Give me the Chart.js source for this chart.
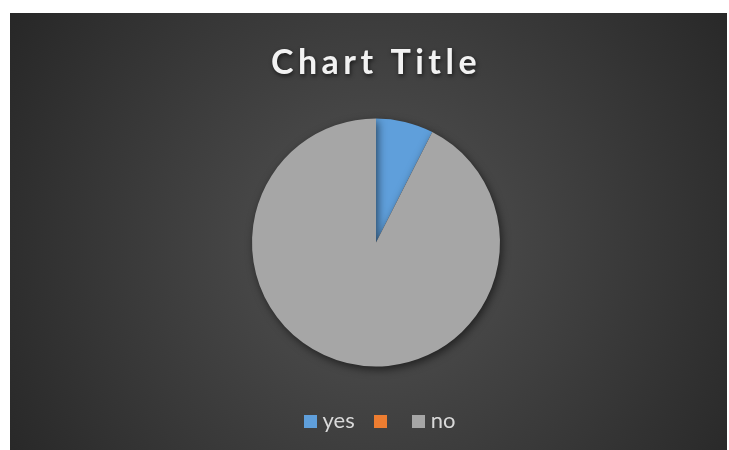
<!DOCTYPE html>
<html>
<head>
<meta charset="utf-8">
<script src="https://cdn.jsdelivr.net/npm/chart.js@4.4.1/dist/chart.umd.min.js"></script>
<style>
  html, body { margin: 0; padding: 0; background: #ffffff; }
  #wrap { position: absolute; left: 10px; top: 13px; width: 717px; height: 437px; }
</style>
</head>
<body>
<div id="wrap"><canvas id="pie"></canvas></div>
<script>
"use strict";

/* ─── DATA ─── */
const labels = ["yes", "", "no"];
const values = [7.5, 0, 92.5];
const colors = ["#5f9fdb", "#ed7d31", "#a6a6a6"];
const titleText = "Chart Title";

/* little square used as legend marker (lets the text sit close to the box) */
function square(color) {
  const c = document.createElement("canvas");
  c.width = 13; c.height = 13;
  const g = c.getContext("2d");
  g.fillStyle = color;
  g.fillRect(0, 0, 13, 13);
  return c;
}

/* ─── background, title, pie shadow ─── */
const deco = {
  id: "deco",
  afterLayout(chart) {
    // legend sits a little right of the pie centre in the original
    chart.legend.left += 6;
    chart.legend.right += 6;
  },
  beforeDraw(chart) {
    const { ctx, width, height } = chart;
    const g = ctx.createRadialGradient(width * 0.51, height * 0.53, 0, width * 0.51, height * 0.53, width * 0.62);
    g.addColorStop(0, "#535353");
    g.addColorStop(1, "#262626");
    ctx.save();
    ctx.fillStyle = g;
    ctx.fillRect(0, 0, width, height);
    ctx.restore();
  },
  beforeDatasetsDraw(chart) {
    const ctx = chart.ctx;
    ctx.save();
    ctx.shadowColor = "rgba(0,0,0,0.55)";
    ctx.shadowBlur = 8;
    ctx.shadowOffsetX = 2;
    ctx.shadowOffsetY = 3;
  },
  afterDatasetsDraw(chart) {
    chart.ctx.restore();
  },
  afterDraw(chart) {
    const ctx = chart.ctx;
    ctx.save();
    ctx.font = "bold 34px Lato";
    ctx.letterSpacing = "4.5px";
    ctx.fillStyle = "#f2f2f2";
    ctx.textAlign = "center";
    ctx.textBaseline = "middle";
    ctx.shadowColor = "rgba(0,0,0,0.6)";
    ctx.shadowBlur = 4;
    ctx.shadowOffsetX = 1;
    ctx.shadowOffsetY = 2;
    ctx.fillText(titleText, 366, 50);
    ctx.restore();
  }
};

new Chart(document.getElementById("pie"), {
  type: "pie",
  data: {
    labels,
    datasets: [{
      data: values,
      backgroundColor: colors,
      borderWidth: 0,
      hoverOffset: 0,
    }]
  },
  options: {
    responsive: true, maintainAspectRatio: false,
    animation: false,
    events: [],
    layout: { padding: { top: 86, bottom: 8, left: 242, right: 227 } },
    plugins: {
      title: { display: false },
      legend: {
        display: true,
        position: "bottom",
        labels: {
          color: "#d9d9d9",
          font: { family: "Lato", size: 22 },
          usePointStyle: true,
          pointStyleWidth: 3,
          boxHeight: 13,
          padding: 24,
          generateLabels(chart) {
            const items = Chart.controllers.pie.overrides.plugins.legend.labels.generateLabels(chart);
            items.forEach((it, i) => { it.pointStyle = square(colors[i]); });
            return items;
          }
        }
      },
      tooltip: { enabled: false },
    }
  },
  plugins: [deco]
});
</script>
</body>
</html>
